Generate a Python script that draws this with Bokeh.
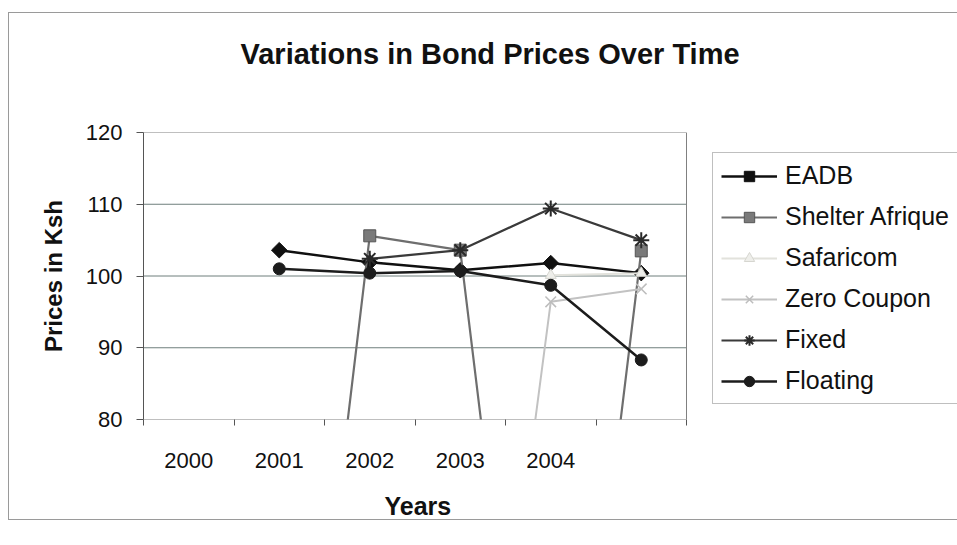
import math
from bokeh.plotting import figure
from bokeh.models import Range1d, FixedTicker, Legend, LegendItem, Title
from bokeh.embed import file_html
from bokeh.resources import INLINE

nan = math.nan

# ---- data ----
years = ["2000", "2001", "2002", "2003", "2004", ""]
eadb = [nan, 103.6, 101.9, 100.8, 101.8, 100.4]
shelter_afrique = [nan, 0.0, 105.6, 103.6, 0.0, 103.5]
safaricom = [nan, nan, nan, nan, 100.1, 100.4]
zero_coupon = [nan, nan, nan, 0.0, 96.4, 98.2]
fixed = [nan, nan, 102.4, 103.6, 109.4, 105.0]
floating = [nan, 101.0, 100.4, 100.7, 98.7, 88.3]
y_ticks = [80, 90, 100, 110, 120]

FONT = "Liberation Sans"
xs = list(range(len(years)))
x_lo, x_hi = -0.5, len(years) - 0.5

# layout (pixels): figure spans x 8..957, y 12..545; plot area x 143..686, y 131..418
FIG_W, FIG_H = 949, 533
LEFT, TOP, BOTTOM = 135, 119, 127
CAT_W = (686 - 143) / len(years)
frame_w = FIG_W - LEFT
x_end = x_lo + frame_w / CAT_W   # frame extends right under the legend

p = figure(width=FIG_W, height=FIG_H,
           x_range=Range1d(x_lo, x_end),
           y_range=Range1d(y_ticks[0], y_ticks[-1]),
           output_backend="svg", toolbar_location=None,
           min_border_left=LEFT, min_border_right=0,
           min_border_top=TOP, min_border_bottom=BOTTOM,
           title="Variations in Bond Prices Over Time")
p.margin = (12, 0, 0, 8)
p.styles = {"border-top": "1px solid #9a9a9a",
            "background": "linear-gradient(#9a9a9a, #9a9a9a) left top / 1px 507px no-repeat, "
                          "linear-gradient(#9a9a9a, #9a9a9a) left 506px / 100% 1px no-repeat, "
                          "#ffffff"}

xa = p.below[0]
ya = p.left[0]

p.title.text_font = FONT
p.title.text_font_size = "29px"
p.title.text_font_style = "bold"
p.title.text_color = "#111111"
p.title.align = "left"
p.title.offset = 97
p.title.standoff = 20

# blank spacer between the title and the plot area
p.add_layout(Title(text=" ", text_font_size="1px", standoff=50), "above")

p.background_fill_color = "white"
p.border_fill_alpha = 0.0
p.outline_line_color = None

# x axis
xa.ticker = FixedTicker(ticks=xs, minor_ticks=[i - 0.5 for i in range(len(years) + 1)])
xa.major_label_overrides = {i: y for i, y in zip(xs, years)}
xa.major_tick_out = 0
xa.major_tick_in = 0
xa.minor_tick_out = 6
xa.minor_tick_in = 0
xa.minor_tick_line_color = "#555555"
xa.axis_line_color = None
xa.major_label_standoff = 27
xa.major_label_text_font = FONT
xa.major_label_text_font_size = "22px"
xa.major_label_text_color = "#111111"

# x axis title, centred under the plot area
p.add_layout(Title(text="Years", text_font=FONT, text_font_size="25px",
                   text_font_style="bold", text_color="#111111",
                   align="left", offset=241, vertical_align="top", standoff=42), "below")

# y axis
ya.ticker = FixedTicker(ticks=y_ticks, minor_ticks=[])
ya.major_tick_out = 7
ya.major_tick_in = 0
ya.major_tick_line_color = "#555555"
ya.axis_line_color = "#555555"
ya.major_label_standoff = 14
ya.major_label_text_font = FONT
ya.major_label_text_font_size = "22px"
ya.major_label_text_color = "#111111"
ya.axis_label = "Prices in Ksh"
ya.axis_label_text_font = FONT
ya.axis_label_text_font_size = "24px"
ya.axis_label_text_font_style = "bold"
ya.axis_label_text_color = "#111111"
ya.axis_label_standoff = 16

p.xgrid.grid_line_color = None
p.ygrid.grid_line_color = None

# plot-area gridlines and border (limited to the category span)
inner = y_ticks[1:-1]
p.segment(x0=[x_lo] * len(inner), x1=[x_hi] * len(inner), y0=inner, y1=inner,
          line_color="#6f7f7c", line_width=1)
p.quad(left=[x_lo], right=[x_hi], bottom=[y_ticks[0]], top=[y_ticks[-1]],
       fill_color=None, line_color="#808080", line_width=1)

items = []

def series(name, vals, color, lw, marker, msize, fill, mline, mlw=1.0, angle=0.0):
    lr = p.line(xs, vals, line_color=color, line_width=lw)
    sr = p.scatter(xs, vals, marker=marker, size=msize, fill_color=fill,
                   line_color=mline, line_width=mlw, angle=angle)
    items.append(LegendItem(label=name, renderers=[lr, sr]))

series("EADB", eadb, "#101010", 2.5, "square", 11, "#101010", "#101010", angle=math.pi / 4)
series("Shelter Afrique", shelter_afrique, "#6e6e6e", 2.2, "square", 12, "#7a7a7a", "#555555")
series("Safaricom", safaricom, "#e2e2dc", 2.0, "triangle", 11, "#eeeeea", "#d6d6d0")
series("Zero Coupon", zero_coupon, "#c2c2c2", 2.0, "x", 15, None, "#bdbdbd", 1.5)
series("Fixed", fixed, "#3a3a3a", 2.2, "asterisk", 16, None, "#2a2a2a", 2.0)
series("Floating", floating, "#1c1c1c", 2.5, "circle", 12, "#1c1c1c", "#1c1c1c")

legend = Legend(items=items, location=(712 - 143, 418 - 403))
legend.label_text_font = FONT
legend.label_text_font_size = "25px"
legend.label_text_color = "#111111"
legend.glyph_width = 56
legend.glyph_height = 26
legend.label_height = 26
legend.label_standoff = 8
legend.spacing = 12
legend.padding = 8
legend.margin = 0
legend.border_line_color = "#808080"
legend.border_line_width = 1
legend.background_fill_color = "white"
legend.background_fill_alpha = 1.0
p.add_layout(legend)

open("out.html", "w").write(file_html(p, INLINE))
